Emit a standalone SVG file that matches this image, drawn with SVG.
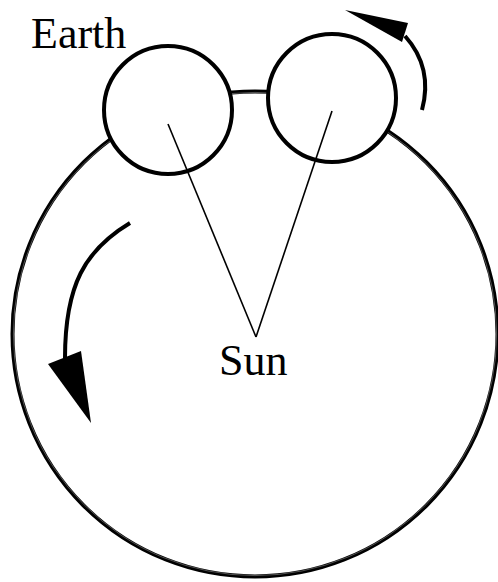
<svg xmlns="http://www.w3.org/2000/svg" width="498" height="582" viewBox="0 0 498 582">
<style>
.lbl{font-family:"Liberation Serif","Times New Roman",serif;font-size:44px;fill:#000}
.orbit{fill:none;stroke:#000;stroke-width:4}
.orbit-gap{fill:none;stroke:#fff;stroke-width:0.4;stroke-opacity:0.8}
.planet{fill:#fff;stroke:#000;stroke-width:4}
.ray{fill:none;stroke:#000;stroke-width:1.6}
.arc{fill:none;stroke:#000;stroke-width:4}
.head{fill:#000;stroke:none}
</style>
<g id="orbit">
<circle class="orbit" cx="255" cy="334" r="242.5"/>
<circle class="orbit-gap" cx="255" cy="334" r="241.6"/>
</g>
<g id="earth1">
<circle class="planet" cx="168" cy="110" r="64"/>
</g>
<g id="earth2">
<circle class="planet" cx="332" cy="98" r="64"/>
</g>
<g id="connectors">
<line class="ray" x1="168" y1="124" x2="256" y2="337"/>
<line class="ray" x1="332" y1="111" x2="256" y2="337"/>
</g>
<g id="arrow-left">
<path class="arc" d="M130,223 C85,250 65,285 65,358"/>
<polygon class="head" points="48,364 81,351 91,423"/>
</g>
<g id="arrow-right">
<path class="arc" d="M422,110 C430,80 422,55 405,36"/>
<polygon class="head" points="345,10 408,23 402,42"/>
</g>
<g id="earth-label"><text class="lbl" x="31" y="48">Earth</text></g>
<g id="sun"><text class="lbl" x="219" y="375">Sun</text></g>
</svg>
